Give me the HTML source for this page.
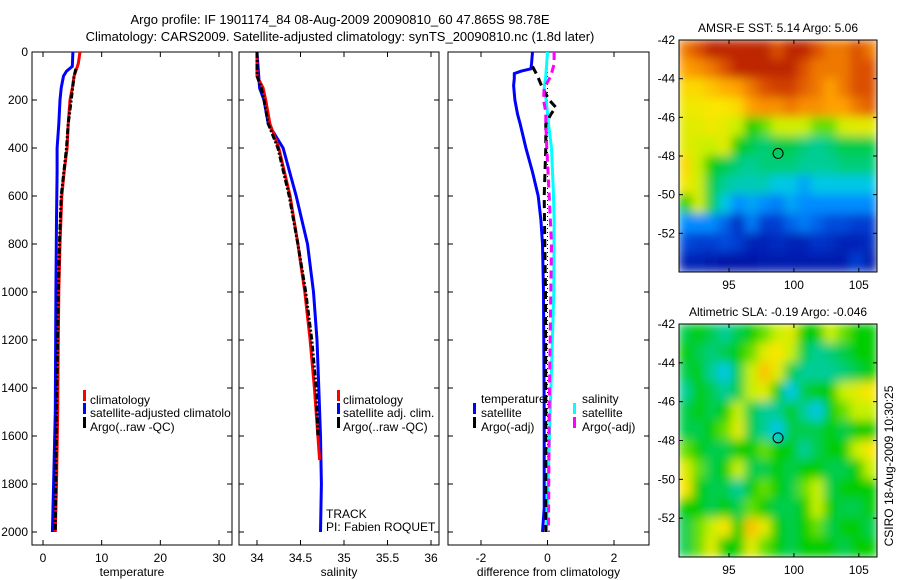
<!DOCTYPE html>
<html><head><meta charset="utf-8">
<style>
body{margin:0;background:#fff;}
svg{display:block;font-family:"Liberation Sans",sans-serif;font-size:12px;}
</style></head>
<body>
<svg id="c" width="900" height="580" viewBox="0 0 900 580" xmlns="http://www.w3.org/2000/svg">
<defs>
<filter id="bl" x="0" y="0" width="1" height="1" filterUnits="objectBoundingBox"><feGaussianBlur stdDeviation="5" edgeMode="duplicate"/></filter>
<clipPath id="cm1"><rect x="679" y="40" width="198" height="232"/></clipPath>
<clipPath id="cm2"><rect x="679" y="324" width="198" height="233"/></clipPath>
</defs>
<text x="340" y="24" text-anchor="middle" font-size="13">Argo profile: IF 1901174_84 08-Aug-2009 20090810_60 47.865S 98.78E</text>
<text x="340" y="41" text-anchor="middle" font-size="13">Climatology: CARS2009. Satellite-adjusted climatology: synTS_20090810.nc (1.8d later)</text>
<g id="g"></g>
</svg>
<script>
// ---- data ----
var depthTicks=[0,200,400,600,800,1000,1200,1400,1600,1800,2000];
var tempTicks=[0,10,20,30];
var salTicks=[34,34.5,35,35.5,36];
var salTickLabels=["34","34.5","35","35.5","36"];
var diffTicks=[-2,0,2];
var lonTicks=[95,100,105];
var latTicks=[-42,-44,-46,-48,-50,-52];

var tClimD=[0,50,100,150,200,300,400,500,600,800,1000,1200,1500,1800,2000];
var tClimV=[6.3,6.0,5.3,5.0,4.6,4.3,4.1,3.6,3.2,2.9,2.7,2.6,2.5,2.3,2.1];
var tSatD=[0,60,80,100,150,200,300,400,500,700,1000,1500,1800,2000];
var tSatV=[5.1,5.0,4.0,3.5,3.1,2.9,2.7,2.4,2.4,2.3,2.2,2.1,1.8,1.6];
var tArgoD=[70,100,200,300,400,600,800,1000,1500,2000];
var tArgoV=[5.6,5.3,4.8,4.3,4.0,3.1,2.8,2.6,2.3,2.1];

var sClimD=[0,100,150,200,300,400,600,800,1000,1200,1400,1600,1700];
var sClimV=[34.0,34.0,34.07,34.1,34.15,34.25,34.38,34.47,34.55,34.61,34.66,34.70,34.72];
var sSatD=[0,150,200,300,400,600,800,1000,1200,1400,1600,1800,2000];
var sSatV=[34.0,34.03,34.08,34.13,34.3,34.45,34.58,34.65,34.69,34.71,34.73,34.74,34.73];
var sArgoD=[0,100,150,200,300,400,600,800,1000,1200,1400,1600];
var sArgoV=[34.0,34.0,34.05,34.08,34.13,34.24,34.37,34.47,34.56,34.63,34.68,34.70];

var dTSatD=[0,50,70,80,90,110,140,200,260,300,400,500,600,700,800,1000,1500,1900,2000];
var dTSatV=[-0.45,-0.48,-0.5,-0.8,-1.0,-1.0,-1.02,-0.98,-0.9,-0.82,-0.65,-0.45,-0.28,-0.2,-0.15,-0.12,-0.1,-0.1,-0.15];
var dSSatD=[0,100,150,200,300,400,600,700,1000,1500,2000];
var dSSatV=[0,-0.05,-0.1,-0.04,0.03,0.12,0.18,0.2,0.19,0.08,-0.03];
var dTArgoD=[60,100,150,200,230,260,300,400,600,800,1000,1500,2000];
var dTArgoV=[-0.45,-0.3,-0.15,0.05,0.25,0.1,-0.05,-0.05,-0.1,-0.08,-0.06,-0.05,-0.05];
var dSArgoD=[0,50,100,150,200,250,300,400,600,800,1000,1500,2000];
var dSArgoV=[0.2,0.2,0.1,-0.1,-0.12,-0.05,-0.05,-0.02,0.05,0.12,0.1,0.05,0.03];

var sst=[
[.85,.9,.95,.95,.95,.95,.95,.9,.95,.95,.9,.85,.85,.9,.85],
[.8,.82,.85,.9,.95,.95,.95,.95,.95,.9,.85,.85,.85,.9,.9],
[.72,.72,.75,.78,.8,.85,.9,.92,.92,.88,.85,.8,.85,.9,.9],
[.68,.68,.7,.7,.72,.8,.82,.82,.85,.82,.82,.8,.8,.85,.88],
[.65,.65,.68,.65,.6,.5,.55,.6,.62,.6,.55,.55,.62,.65,.65],
[.65,.62,.6,.65,.5,.45,.42,.45,.45,.42,.4,.42,.45,.45,.45],
[.72,.6,.5,.45,.42,.4,.42,.42,.42,.4,.4,.4,.42,.42,.42],
[.68,.62,.45,.4,.38,.38,.38,.35,.35,.32,.35,.35,.35,.35,.35],
[.5,.62,.45,.35,.3,.32,.3,.28,.32,.3,.3,.3,.3,.3,.3],
[.3,.3,.3,.25,.15,.28,.2,.2,.25,.28,.25,.22,.22,.2,.2],
[.22,.2,.2,.22,.2,.12,.12,.15,.12,.12,.18,.15,.12,.12,.15],
[.12,.12,.1,.08,.08,.08,.1,.1,.1,.1,.1,.1,.1,.2,.1]];
var sla=[
[.45,.5,.45,.4,.45,.5,.55,.6,.65,.5,.5,.6,.55,.5,.5],
[.5,.45,.42,.45,.5,.55,.65,.7,.6,.45,.4,.42,.45,.5,.5],
[.45,.5,.4,.35,.45,.6,.75,.65,.45,.4,.4,.4,.42,.45,.5],
[.4,.5,.45,.4,.45,.6,.65,.5,.35,.45,.5,.5,.6,.65,.7],
[.45,.5,.45,.5,.6,.45,.4,.4,.5,.4,.35,.5,.55,.6,.6],
[.45,.45,.5,.55,.65,.45,.4,.35,.45,.45,.45,.5,.45,.5,.5],
[.55,.5,.45,.45,.5,.5,.55,.5,.5,.4,.45,.5,.5,.6,.7],
[.65,.55,.45,.5,.6,.45,.45,.5,.45,.5,.5,.45,.45,.5,.6],
[.7,.5,.45,.45,.4,.5,.55,.5,.45,.55,.6,.45,.5,.5,.5],
[.5,.5,.45,.5,.45,.55,.5,.45,.45,.5,.6,.5,.45,.45,.5],
[.45,.55,.6,.7,.5,.75,.65,.5,.45,.5,.55,.45,.5,.5,.45],
[.45,.55,.65,.5,.5,.65,.55,.5,.45,.5,.5,.5,.45,.5,.5]];
var floatLon=[98.78];
var floatLat=[-47.865];

// ---- helpers ----
var NS="http://www.w3.org/2000/svg";
var G=document.getElementById('g');
function mk(t,a,p){var e=document.createElementNS(NS,t);for(var k in a)e.setAttribute(k,a[k]);(p||G).appendChild(e);return e;}
function lin(d0,d1,r0,r1){return function(v){return r0+(v-d0)/(d1-d0)*(r1-r0);};}
var Y0=52,Y1=545;
var yD=lin(0,2000,52,532);

function panel(name,x0,x1,xs,ticks,labels,xlabel){
  var r=mk('rect',{x:x0,y:Y0,width:x1-x0,height:Y1-Y0,fill:'none',stroke:'#000','stroke-width':1});
  
  
  ticks.forEach(function(t,i){
    var x=xs(t);
    mk('line',{x1:x,x2:x,y1:Y1,y2:Y1-5,stroke:'#000'});
    mk('line',{x1:x,x2:x,y1:Y0,y2:Y0+5,stroke:'#000'});
    var tx=mk('text',{x:x,y:Y1+17,'text-anchor':'middle'});tx.textContent=labels[i];
    
    
  });
  depthTicks.forEach(function(d){
    var y=yD(d);
    mk('line',{x1:x0,x2:x0+5,y1:y,y2:y,stroke:'#000'});
    mk('line',{x1:x1,x2:x1-5,y1:y,y2:y,stroke:'#000'});
  });
  var xl=mk('text',{x:(x0+x1)/2,y:Y1+31,'text-anchor':'middle'});xl.textContent=xlabel;
  
  
}
function line(name,D,V,xs,color,dash,w){
  var pts=D.map(function(d,i){return xs(V[i]).toFixed(1)+','+yD(d).toFixed(1);}).join(' ');
  var a={points:pts,fill:'none',stroke:color,'stroke-width':w||3};
  if(dash)a['stroke-dasharray']=dash;
  var p=mk('polyline',a);
  
  
}
function txt(name,x,y,s,anchor){var t=mk('text',{x:x,y:y,'text-anchor':anchor||'start'});t.textContent=s;
  
  return t;}
function legMark(x,y,c){mk('rect',{x:x,y:y-10,width:3,height:11,fill:c});}

depthTicks.forEach(function(d){
  txt('depth-tick-label',28,yD(d)+4,String(d),'end');
});

// panel 1
var xT=lin(0,30,43,219);
panel('temperature',32,232,xT,tempTicks,tempTicks.map(String),'temperature');
line('temp-climatology-line',tClimD,tClimV,xT,'#f00');
line('temp-satellite-line',tSatD,tSatV,xT,'#00f');
line('temp-argo-line',tArgoD,tArgoV,xT,'#000','6 2 2 2');
legMark(83,400,'#f00');txt('legend-climatology',90,404,'climatology');
legMark(83,413,'#00f');txt('legend-satellite-adjusted',90,417,'satellite-adjusted climatolo');
legMark(83,427,'#000');txt('legend-argo',90,431,'Argo(..raw -QC)');

// panel 2
var xS=lin(34,36,257,431);
panel('salinity',239,439,xS,salTicks,salTickLabels,'salinity');
line('sal-satellite-line',sSatD,sSatV,xS,'#00f');
line('sal-climatology-line',sClimD,sClimV,xS,'#f00');
line('sal-argo-line',sArgoD,sArgoV,xS,'#000','6 2 2 2');
legMark(337,400,'#f00');txt('legend-sal-climatology',343,404,'climatology');
legMark(337,413,'#00f');txt('legend-sal-satellite',343,417,'satellite adj. clim.');
legMark(337,427,'#000');txt('legend-sal-argo',343,431,'Argo(..raw -QC)');
txt('track-label',326,518,'TRACK');
txt('pi-label',326,531,'PI: Fabien ROQUET');

// panel 3
var xDf=lin(-2,2,481,614);
panel('difference',448,649,xDf,diffTicks,diffTicks.map(String),'difference from climatology');
mk('line',{x1:xDf(0),x2:xDf(0),y1:Y0,y2:yD(2000),stroke:'#000','stroke-width':1,'stroke-dasharray':'1 3'});
line('diff-temp-satellite-line',dTSatD,dTSatV,xDf,'#00f');
line('diff-sal-satellite-line',dSSatD,dSSatV,xDf,'#0ff');
line('diff-temp-argo-line',dTArgoD,dTArgoV,xDf,'#000','8 5');
line('diff-sal-argo-line',dSArgoD,dSArgoV,xDf,'#f0f','8 5');
txt('legend-temperature-header',481,403,'temperature');
legMark(473,413,'#00f');txt('legend-diff-t-sat',481,417,'satellite');
legMark(473,427,'#000');txt('legend-diff-t-argo',481,431,'Argo(-adj)');
txt('legend-salinity-header',582,403,'salinity');
legMark(573,413,'#0ff');txt('legend-diff-s-sat',582,417,'satellite');
legMark(573,427,'#f0f');txt('legend-diff-s-argo',582,431,'Argo(-adj)');

// colormap
var stops=[[0,[0,0,140]],[.2,[0,60,210]],[.3,[0,140,255]],[.35,[0,200,230]],[.4,[0,205,150]],[.5,[0,205,0]],[.6,[200,240,0]],[.7,[250,230,0]],[.8,[255,160,0]],[.9,[220,80,0]],[1,[160,0,0]]];
function cmap(v){for(var i=1;i<stops.length;i++){if(v<=stops[i][0]){var a=stops[i-1],b=stops[i],f=(v-a[0])/(b[0]-a[0]);
 return 'rgb('+[0,1,2].map(function(k){return Math.round(a[1][k]+f*(b[1][k]-a[1][k]));}).join(',')+')';}}return 'rgb(160,0,0)';}

function map(name,M,x0,y0,x1,y1,clip,title){
  var xs=lin(91.15,106.4,x0,x1), ys=lin(-42,-54,y0,y1);
  var grp=mk('g',{'clip-path':'url(#'+clip+')'});
  var inner=mk('g',{filter:'url(#bl)'},grp);
  var nr=M.length,nc=M[0].length,cw=(x1-x0)/nc,ch=(y1-y0)/nr;
  M.forEach(function(row,i){row.forEach(function(v,j){
    var c=mk('rect',{x:x0+j*cw-0.5,y:y0+i*ch-0.5,width:cw+1,height:ch+1,fill:cmap(v)},inner);
    
    
  });});
  var b=mk('rect',{x:x0,y:y0,width:x1-x0,height:y1-y0,fill:'none',stroke:'#000'});
  
  
  lonTicks.forEach(function(l){var x=xs(l);
    mk('line',{x1:x,x2:x,y1:y0,y2:y0+4,stroke:'#000'});mk('line',{x1:x,x2:x,y1:y1,y2:y1-4,stroke:'#000'});
    txt(name+'-lon-label',x,y1+17,String(l),'middle');});
  latTicks.forEach(function(l){var y=ys(l);
    mk('line',{x1:x0,x2:x0+4,y1:y,y2:y,stroke:'#000'});mk('line',{x1:x1,x2:x1-4,y1:y,y2:y,stroke:'#000'});
    txt(name+'-lat-label',x0-4,y+4,String(l),'end');});
  var ci=mk('circle',{cx:xs(floatLon[0]),cy:ys(floatLat[0]),r:5,fill:'none',stroke:'#000','stroke-width':1});
  
  
  txt(name+'-title',(x0+x1)/2,y0-8,title,'middle');
}
map('sst',sst,679,40,877,272,'cm1','AMSR-E SST: 5.14  Argo: 5.06');
map('sla',sla,679,324,877,557,'cm2','Altimetric SLA: -0.19  Argo: -0.046');
var cs=txt('csiro-stamp',0,0,'CSIRO 18-Aug-2009 10:30:25','middle');
cs.setAttribute('transform','translate(893,466) rotate(-90)');
</script>
</body></html>
